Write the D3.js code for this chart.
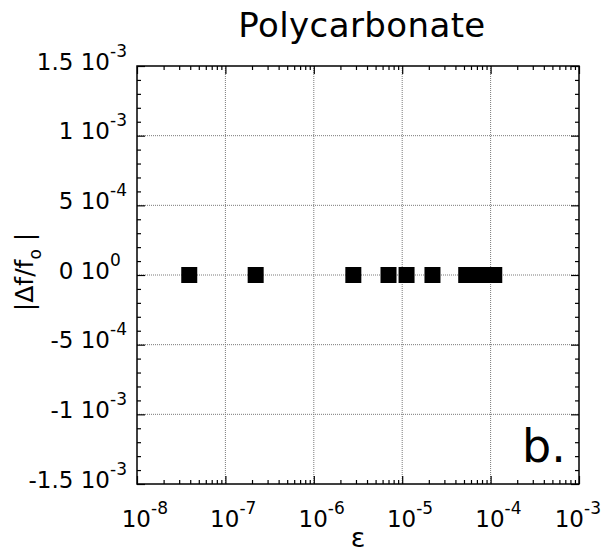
<!DOCTYPE html>
<html>
<head>
<meta charset="utf-8">
<script src="https://cdn.jsdelivr.net/npm/d3@7"></script>
<style>
  html, body { margin: 0; padding: 0; background: #fff; }
  svg { display: block; }
  text { font-family: "DejaVu Sans", sans-serif; fill: #000; }
</style>
</head>
<body>
<svg id="chart" width="607" height="552"></svg>
<script>
// ---- data ----
const strain = [3.9e-8, 2.2e-7, 2.8e-6, 7.0e-6, 1.12e-5, 2.2e-5, 5.3e-5, 6.8e-5, 8.7e-5, 1.1e-4];
const dff    = [0, 0, 0, 0, 0, 0, 0, 0, 0, 0];
const xTickValues = [1e-8, 1e-7, 1e-6, 1e-5, 1e-4, 1e-3];
const xTickExp    = ["-8", "-7", "-6", "-5", "-4", "-3"];
const yTickValues = [1.5e-3, 1e-3, 5e-4, 0, -5e-4, -1e-3, -1.5e-3];
const yTickMant   = ["1.5", "1", "5", "0", "-5", "-1", "-1.5"];
const yTickExp    = ["-3", "-3", "-4", "0", "-4", "-3", "-3"];
const titleText = "Polycarbonate";
const panelText = "b.";

// ---- layout ----
const L = 137, R = 579, T = 66, B = 484;
const svg = d3.select("#chart");
const x = d3.scaleLog().domain([1e-8, 1e-3]).range([L, R]);
const y = d3.scaleLinear().domain([-1.5e-3, 1.5e-3]).range([B, T]);

// gridlines
const grid = svg.append("g").attr("stroke", "#7a7a7a").attr("stroke-width", 1).attr("stroke-dasharray", "1,1");
grid.selectAll("line.vx").data(xTickValues.slice(1, -1)).join("line")
  .attr("x1", d => x(d)).attr("x2", d => x(d)).attr("y1", T).attr("y2", B);
grid.selectAll("line.hy").data(yTickValues.slice(1, -1)).join("line")
  .attr("y1", d => y(d)).attr("y2", d => y(d)).attr("x1", L).attr("x2", R);

// ticks via d3 axes (inward)
const xMinor = x.ticks().filter(d => !xTickValues.some(m => Math.abs(m - d) / m < 1e-6));
const yMinor = d3.range(-15, 16).map(i => i * 1e-4).filter(d => !yTickValues.some(m => Math.abs(m - d) < 1e-9));

function addAxis(axis, tx, ty) {
  const g = svg.append("g").attr("transform", `translate(${tx},${ty})`).call(axis);
  g.select(".domain").remove();
  g.selectAll("line").attr("stroke", "#000").attr("stroke-width", 1.2);
  g.selectAll("text").remove();
}
addAxis(d3.axisBottom(x).tickValues(xMinor).tickSize(-4).tickFormat(""), 0, B);
addAxis(d3.axisBottom(x).tickValues(xTickValues).tickSize(-8).tickFormat(""), 0, B);
addAxis(d3.axisTop(x).tickValues(xMinor).tickSize(-4).tickFormat(""), 0, T);
addAxis(d3.axisTop(x).tickValues(xTickValues).tickSize(-8).tickFormat(""), 0, T);
addAxis(d3.axisLeft(y).tickValues(yMinor).tickSize(-4).tickFormat(""), L, 0);
addAxis(d3.axisLeft(y).tickValues(yTickValues).tickSize(-8).tickFormat(""), L, 0);
addAxis(d3.axisRight(y).tickValues(yMinor).tickSize(-4).tickFormat(""), R, 0);
addAxis(d3.axisRight(y).tickValues(yTickValues).tickSize(-8).tickFormat(""), R, 0);

// frame
svg.append("rect").attr("x", L).attr("y", T).attr("width", R - L).attr("height", B - T)
  .attr("fill", "none").attr("stroke", "#000").attr("stroke-width", 1.5);

// data squares
const S = 16;
svg.append("g").selectAll("rect").data(strain.map((s, i) => [s, dff[i]])).join("rect")
  .attr("x", d => x(d[0]) - S / 2).attr("y", d => y(d[1]) - S / 2)
  .attr("width", S).attr("height", S).attr("fill", "#000");

// y tick labels
const yl = svg.append("g");
yTickValues.forEach((v, i) => {
  const yy = y(v) + 3.5;
  yl.append("text").attr("x", 110).attr("y", yy).attr("text-anchor", "end")
    .attr("font-size", 23).text(yTickMant[i] + " 10");
  yl.append("text").attr("x", 110).attr("y", yy - 13).attr("text-anchor", "start")
    .attr("font-size", 17).text(yTickExp[i]);
});

// x tick labels
const xl = svg.append("g");
xTickValues.forEach((v, i) => {
  const xx = x(v) - (i === xTickValues.length - 1 ? 9 : 0);
  xl.append("text").attr("x", xx + 14).attr("y", 527).attr("text-anchor", "end")
    .attr("font-size", 23).text("10");
  xl.append("text").attr("x", xx + 14).attr("y", 514).attr("text-anchor", "start")
    .attr("font-size", 17).text(xTickExp[i]);
});

// axis titles
svg.append("text").attr("x", 358).attr("y", 547).attr("text-anchor", "middle")
  .attr("font-size", 27).text("ε");

const yt = svg.append("text").attr("transform", "translate(33,272) rotate(-90)")
  .attr("text-anchor", "middle").attr("font-size", 25);
yt.append("tspan").text("|Δf/f");
yt.append("tspan").attr("font-size", 17).attr("dy", 8).text("o");
yt.append("tspan").attr("dy", -8).text(" |");

// title
svg.append("text").attr("x", 362).attr("y", 37).attr("text-anchor", "middle")
  .attr("font-size", 34).attr("letter-spacing", 0.4).text(titleText);

// panel label
svg.append("text").attr("x", 522).attr("y", 462).attr("font-size", 46).text(panelText);
</script>
</body>
</html>
